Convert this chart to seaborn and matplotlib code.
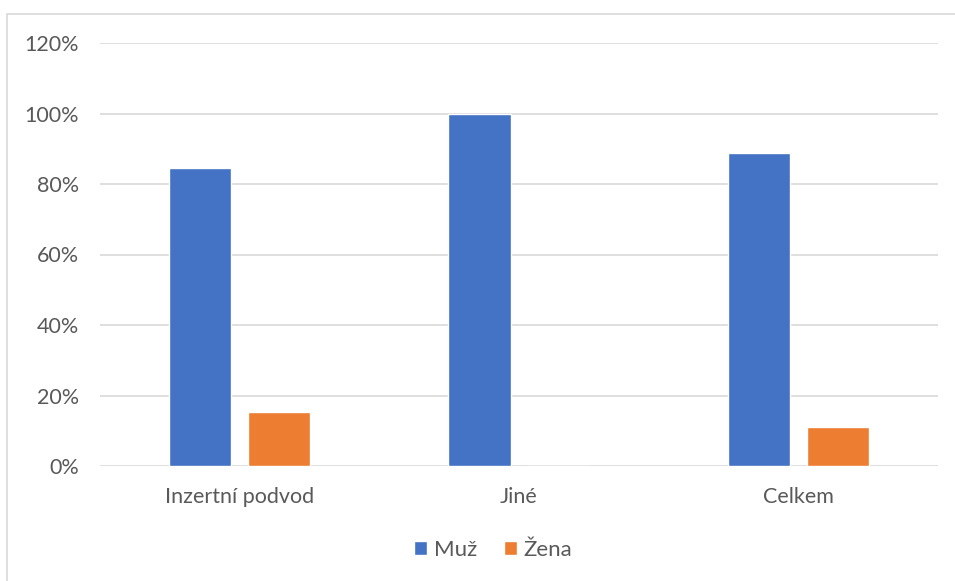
import pandas as pd
import numpy as np
import seaborn as sns
from matplotlib import pyplot as plt
from matplotlib.patches import Rectangle
from matplotlib.ticker import PercentFormatter

categories = ["Inzertní podvod", "Jiné", "Celkem"]
muz = [0.846, 1.0, 0.889]
zena = [0.154, 0.0, 0.111]
series = ["Muž", "Žena"]
colors = ["#4472C4", "#ED7D31"]

df = pd.DataFrame({
    "kategorie": categories * 2,
    "pohlavi": [series[0]] * 3 + [series[1]] * 3,
    "podil": muz + zena,
})

sns.set_style("white")
plt.rcParams['font.family'] = ['Lato', 'DejaVu Sans']

fig = plt.figure(figsize=(9.55, 5.81), dpi=100)
ax = fig.add_axes([100/955, 1-466/581, 838/955, (466-43)/581])

sns.barplot(data=df, x="kategorie", y="podil", hue="pohlavi", order=categories,
            hue_order=series, palette=colors, width=0.566, gap=0.215,
            saturation=1, ax=ax, legend=True)

ax.set_xlim(-0.5, 2.5)
ax.set_ylim(0, 1.2)
ax.set_yticks(np.arange(0, 1.21, 0.2))
ax.yaxis.set_major_formatter(PercentFormatter(1.0, decimals=0))
ax.grid(axis='y', color='#d9d9d9', linewidth=1.2)
ax.set_axisbelow(True)
for s in ax.spines.values():
    s.set_visible(False)
ax.set_xlabel("")
ax.set_ylabel("")
ax.tick_params(axis='both', length=0, labelsize=15.5, labelcolor='#595959')
ax.tick_params(axis='y', pad=15)
ax.tick_params(axis='x', pad=15)

handles, labels = ax.get_legend_handles_labels()
ax.legend(handles, labels, loc='center', bbox_to_anchor=(493/955, 1-550/581),
          bbox_transform=fig.transFigure, ncol=2, frameon=False, fontsize=16,
          handlelength=0.6, handleheight=0.6, handletextpad=0.3, columnspacing=1.2,
          labelcolor='#595959')

fig.patches.append(Rectangle((7/955, -0.1), 1.1, 1-14/581+0.1, transform=fig.transFigure,
                             fill=False, edgecolor='#d9d9d9', linewidth=1.2))

fig.savefig("out.png", dpi=100, facecolor='white')
